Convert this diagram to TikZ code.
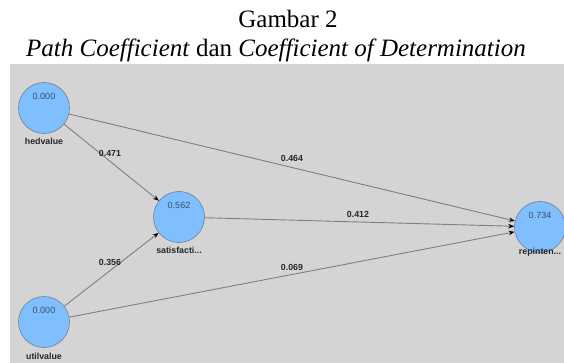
\documentclass[tikz,border=0pt]{standalone}
\usepackage{fontspec}
\setmainfont{Liberation Serif}
\newfontfamily\diagfont{Liberation Sans}
\usetikzlibrary{arrows.meta}
\definecolor{bgc}{HTML}{D4D4D4}
\definecolor{lvfill}{HTML}{80BFFF}
\definecolor{lvdraw}{HTML}{6E7F90}
\definecolor{valc}{HTML}{34506E}
\definecolor{linec}{HTML}{7F7F7F}
\tikzset{
  lv/.style={circle, minimum size=51pt, inner sep=0pt, fill=lvfill, draw=lvdraw, line width=0.6pt},
  val/.style={font=\diagfont\fontsize{9}{10}\selectfont, text=valc, inner sep=0pt},
  lvname/.style={font=\diagfont\bfseries\fontsize{8.8}{10}\selectfont, text=black!85, inner sep=0pt},
  elabel/.style={font=\diagfont\bfseries\fontsize{8.8}{10}\selectfont, text=black!85, inner sep=0pt},
  path/.style={draw=linec, line width=0.9pt, -{Stealth[length=6pt,width=4.5pt,color=black]}},
  titletext/.style={font=\fontsize{25}{29}\selectfont, inner sep=0pt}
}
\begin{document}
\begin{tikzpicture}[x=1pt,y=-1pt]
\useasboundingbox (0,0) rectangle (564,363);
\fill[bgc] (10,64) rectangle (564,363);
\node[titletext, anchor=base] (t1) at (288,28) {Gambar 2};
\node[titletext, anchor=base] (t2) at (276,57) {\textit{Path Coefficient} dan \textit{Coefficient of Determination}};
% latent variables
\node[lv] (hed) at (44,108) {};
\node[lv] (util) at (44,322) {};
\node[lv] (sat) at (179,217) {};
\node[lv] (rep) at (540,227) {};
\node[val] (vhed) at (44,96) {0.000};
\node[val] (vutil) at (44,310) {0.000};
\node[val] (vsat) at (179,205) {0.562};
\node[val] (vrep) at (540,215) {0.734};
\node[lvname] (nhed) at (44,141) {hedvalue};
\node[lvname] (nutil) at (44,356) {utilvalue};
\node[lvname] (nsat) at (179,250) {satisfacti...};
\node[lvname] (nrep) at (540,252) {repinten...};
% paths
\draw[path] (hed) -- (sat);
\draw[path] (util) -- (sat);
\draw[path] (hed) -- (rep);
\draw[path] (sat) -- (rep);
\draw[path] (util) -- (rep);
% coefficients
\node[elabel] (c1) at (110,153) {0.471};
\node[elabel] (c2) at (110,262) {0.356};
\node[elabel] (c3) at (292,158) {0.464};
\node[elabel] (c4) at (358,214) {0.412};
\node[elabel] (c5) at (292,267) {0.069};
\end{tikzpicture}
\end{document}
